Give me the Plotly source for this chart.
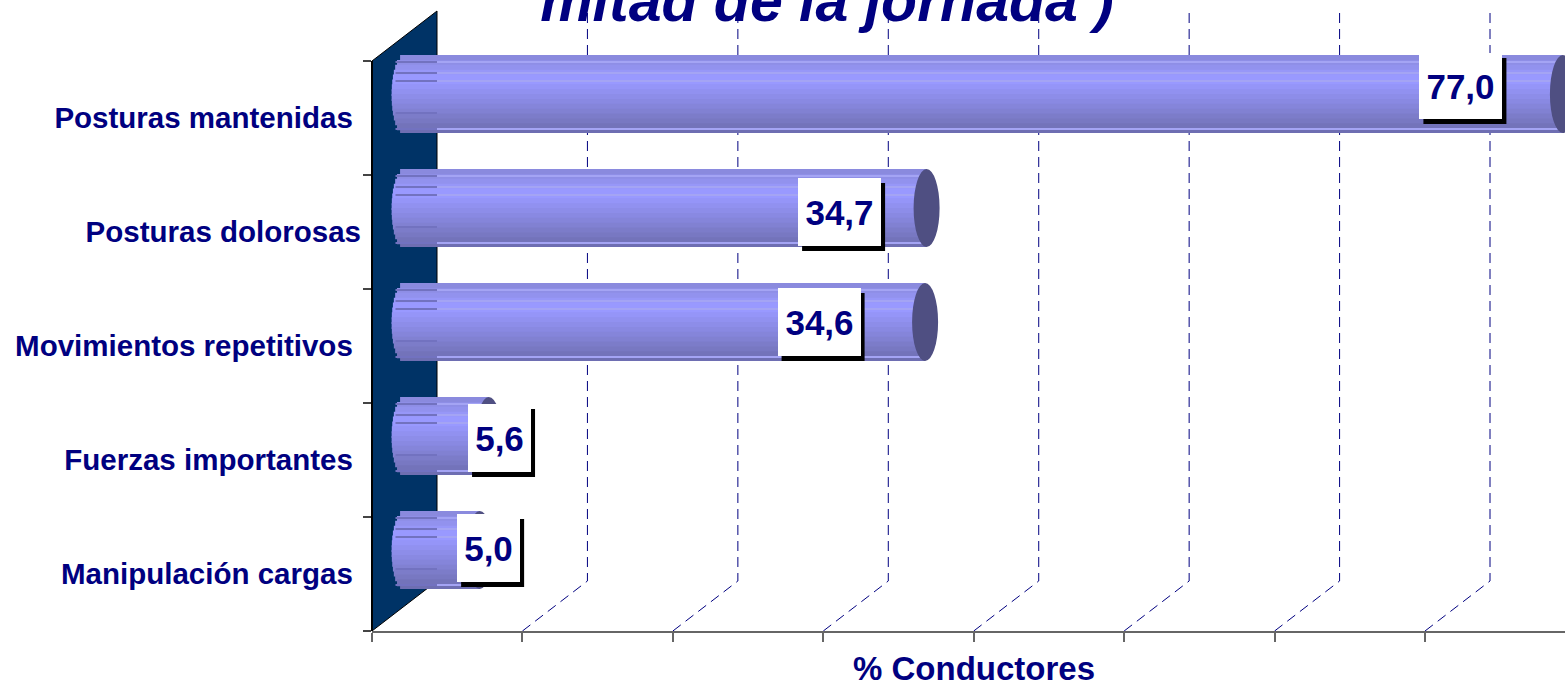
import plotly.graph_objects as go
import math

categories = ["Posturas mantenidas", "Posturas dolorosas", "Movimientos repetitivos",
              "Fuerzas importantes", "Manipulación cargas"]
values = [77.0, 34.7, 34.6, 5.6, 5.0]
value_labels = ["77,0", "34,7", "34,6", "5,6", "5,0"]
tick_values = [0, 10, 20, 30, 40, 50, 60, 70, 80]
title_text = "mitad de la jornada )"
axis_title = "% Conductores"

# tick labels: only the second one sits closer to the axis in the reference
tick_labels = [c + ("" if c == "Posturas dolorosas" else "\u00a0") for c in categories]

# layout in pixels
W, H = 1565, 683
L, T, B = 372, 40, 52
ROW = 114
FRONT_TOP = 61
PX_PER_UNIT = 150.43 / 10
plot_h = H - T - B
X_MAX = (W - L) / PX_PER_UNIT
BAR_DEPTH = 32.6 / PX_PER_UNIT      # bars sit in the middle of the 3-D depth
WALL_DEPTH = 65 / PX_PER_UNIT       # back wall offset in x
ROW_SHIFT = -24 / ROW               # bars are shifted upward from the front plane
BAR_THICK = 78 / ROW
CAP_HW = 13 / PX_PER_UNIT


def py(pixel):
    """paper y of a page pixel row"""
    return (H - B - pixel) / plot_h


Y_FLOOR, Y_TOP = py(631), py(FRONT_TOP)
WALL_RISE = py(581)

NAVY = "#000080"
FONT = "Liberation Sans"

# cylinder shading, top to bottom
band_colors = ["#8a8ade", "#8e8ee6", "#9292ee", "#9797f8", "#9999ff", "#9999ff",
               "#9595f8", "#9191f0", "#8d8de9", "#8989e2", "#8585da", "#8181d2",
               "#7c7cc9", "#7878c2", "#7373ba", "#6e6eb2"]
# thin lines on the cylinder: fraction of thickness
light_lines = [0.08, 0.22, 0.33, 0.94]
dark_lines = [0.08, 0.22, 0.33, 0.74, 0.94]

fig = go.Figure()


def add_band(f0, f1, color, starts, ends):
    fig.add_trace(go.Bar(
        y=categories, x=[e - s for s, e in zip(starts, ends)], base=starts,
        orientation="h", width=BAR_THICK * (f1 - f0),
        offset=ROW_SHIFT - BAR_THICK / 2 + BAR_THICK * f0,
        marker=dict(color=color, line=dict(width=0)),
        cliponaxis=False, showlegend=False, hoverinfo="skip"))


ends = [BAR_DEPTH + v for v in values]
n = len(band_colors)
OVERLAP = 2 / 78
for k, col in enumerate(band_colors):
    t = 2 * (k + 0.5) / n - 1
    left = BAR_DEPTH - CAP_HW * math.sqrt(max(0, 1 - t * t))
    add_band(k / n, min(1, (k + 1) / n + OVERLAP), col, [left] * len(values), ends)

for f in light_lines:
    add_band(f, f + 0.012, "#a4a4f4", [WALL_DEPTH] * len(values), ends)
for f in dark_lines:
    add_band(f, f + 0.012, "#7272c0", [BAR_DEPTH - CAP_HW * 0.7] * len(values),
             [WALL_DEPTH] * len(values))

shapes = []
# side wall
shapes.append(dict(type="path", xref="x", yref="paper", layer="below",
                   path=f"M 0 {Y_FLOOR} L {WALL_DEPTH} {WALL_RISE} L {WALL_DEPTH} {WALL_RISE + (Y_TOP - Y_FLOOR)} L 0 {Y_TOP} Z",
                   fillcolor="#003366", line=dict(color="black", width=1)))
# front-plane y axis line
shapes.append(dict(type="line", xref="paper", yref="paper", layer="above",
                   x0=0, x1=0, y0=Y_FLOOR, y1=Y_TOP, line=dict(color="black", width=2)))
# dashed floor + back-wall grid
for v in tick_values[1:]:
    shapes.append(dict(type="path", xref="x", yref="paper", layer="below",
                       path=f"M {v} {Y_FLOOR} L {v + WALL_DEPTH} {WALL_RISE} L {v + WALL_DEPTH} {WALL_RISE + (Y_TOP - Y_FLOOR)}",
                       line=dict(color=NAVY, width=1, dash="10px,6px")))
# end caps
for i, e in enumerate(ends):
    yc = py(FRONT_TOP + ROW * (i + 0.5 + ROW_SHIFT))
    hh = (78 / 2) / plot_h
    shapes.append(dict(type="circle", xref="x", yref="paper", layer="above",
                       x0=e - CAP_HW, x1=e + CAP_HW, y0=yc - hh, y1=yc + hh,
                       fillcolor="#4f4f82", line=dict(width=0)))

# data label placement, pixels relative to the bar end / row centre
label_dx = [-102, -87, -106, 10.7, 8.8]
label_dy = [32, 20, 24, 22, 26]
label_w = [83, 83, 83, 63, 63]
label_h = [66, 68, 68, 68, 68]

annotations = []
for i, txt in enumerate(value_labels):
    w, h = label_w[i], label_h[i]
    dx, dy = label_dx[i], label_dy[i]
    shapes.append(dict(type="rect", layer="above", xref="x", yref="paper",
                       xsizemode="pixel", ysizemode="pixel",
                       xanchor=ends[i], yanchor=py(FRONT_TOP + ROW * (i + 0.5)),
                       x0=dx - w / 2 + 4, x1=dx + w / 2 + 4,
                       y0=dy - h / 2 - 5, y1=dy + h / 2 - 5,
                       fillcolor="black", line=dict(width=0)))
    annotations.append(dict(x=ends[i], y=categories[i], xref="x", yref="y",
                            xshift=dx, yshift=dy, text=f"<b>{txt}</b>", showarrow=False,
                            width=w, height=h, bgcolor="white", borderpad=0, borderwidth=0,
                            xanchor="center", yanchor="middle", align="center", valign="middle",
                            font=dict(family=FONT, size=35, color=NAVY)))

annotations.append(dict(x=(974 - L) / (W - L), y=py(668), xref="paper", yref="paper",
                        text=f"<b>{axis_title}</b>", showarrow=False, xanchor="center", yanchor="middle",
                        font=dict(family=FONT, size=33, color=NAVY)))

fig.update_layout(
    width=W, height=H, autosize=False,
    margin=dict(l=L, r=0, t=T, b=B),
    paper_bgcolor="white", plot_bgcolor="rgba(0,0,0,0)",
    barmode="overlay", showlegend=False,
    title=dict(text=f"<b><i>{title_text}</i></b>", x=827 / W, xanchor="center", y=1, yanchor="middle",
               font=dict(family=FONT, size=59, color=NAVY)),
    shapes=shapes, annotations=annotations,
    xaxis=dict(range=[0, X_MAX], tickmode="array", tickvals=tick_values, showticklabels=False,
               ticks="outside", ticklen=9, tickwidth=2, tickcolor="#666666",
               showline=True, linecolor="#666666", linewidth=2, showgrid=False, zeroline=False),
    yaxis=dict(type="category", categoryorder="array", categoryarray=categories,
               range=[len(categories) - 0.5, -0.5 - (FRONT_TOP - T) / ROW],
               tickmode="array", tickvals=categories,
               ticktext=[f"<b>{t}</b>" for t in tick_labels], tickson="boundaries",
               ticks="outside", ticklen=8, tickwidth=2, tickcolor="#444444",
               ticklabelstandoff=10,
               showline=False, showgrid=False, zeroline=False,
               tickfont=dict(family=FONT, size=29.5, color=NAVY)),
)
fig.write_html("out.html", config={"displayModeBar": False},
               post_script="document.body.style.margin='0';document.documentElement.style.overflow='hidden';")
